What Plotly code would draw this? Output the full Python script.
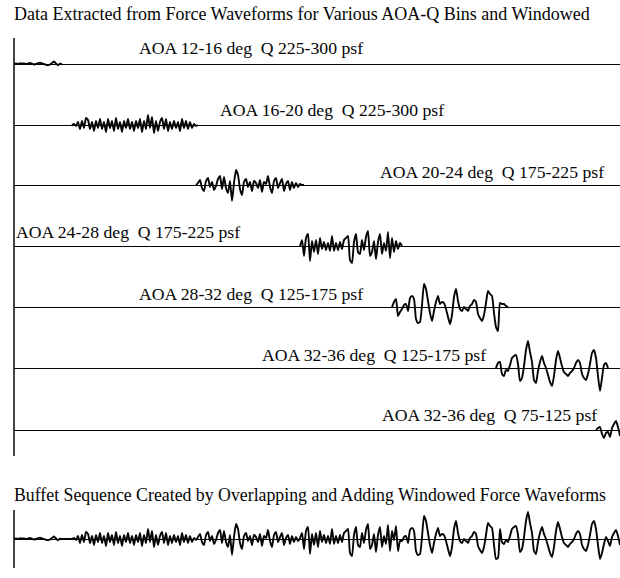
import numpy as np
import plotly.graph_objects as go

W, H = 620, 578

# ---- data: windowed force waveform samples (sample index grid, 1 sample = 2 time units)
labels = [
    "AOA 12-16 deg  Q 225-300 psf",
    "AOA 16-20 deg  Q 225-300 psf",
    "AOA 20-24 deg  Q 175-225 psf",
    "AOA 24-28 deg  Q 175-225 psf",
    "AOA 28-32 deg  Q 125-175 psf",
    "AOA 32-36 deg  Q 125-175 psf",
    "AOA 32-36 deg  Q 75-125 psf",
]
starts = [0, 29, 91, 143, 189, 241, 291]
n_samples = 304

seg1 = [0, .5, 0, .8, .3, .6, 0, .5, 1, .3, -.5, 0, .8, 1.2, .6, 0, -.8, -1.2, -.5, 1, 2.5, .5, -1.2, .3, 0]
seg2 = [0, 1, -1, 3, -4, 4, -3, 7, 5, -4, 3, -6, 4, -3, 6, -4, 3, -7, 6, -3, 4, -6, 7, -4, 3, -7, 4, -3,
        6, -4, 3, -6, 4, -3, 6, -7, 4, -4, 10, -3, 8, -8, 4, -6, 3, 7, -4, 6, -6, 3, -4, 4, -3, 3, -6, 6,
        -3, 4, -4, 3, -3, 1, -1, 0]
seg3 = [0, 2, 5, -3, -6, 4, 7, -2, 3, -5, -1, 6, 9, -4, 8, -3, -8, 4, -16, 2, 15, 10, -4, -10, 3, 6, -2,
        3, -6, 4, 2, -3, 5, -7, 3, 1, 9, -2, -8, 4, 7, -3, 2, 6, -6, 1, 4, -5, 3, -3, 2, -2, 1, 0, 0]
seg4 = [0, 6, -10, 8, 12, -15, 5, -6, 6, -8, 8, -3, 4, -4, 3, -5, 10, -5, 3, -4, 4, -3, 6, 8, 10, -14,
        -17, 4, 12, -6, -8, 6, -4, 9, 15, -10, -6, 5, -13, 4, 12, -8, 3, -5, 14, -12, 8, -6, 5, -3, 3, 0]
seg5 = [0, 5, 8, -9, -5, -2, 2, 3, -4, 9, 11, 8, -12, -16, -15, 2, 23, 18, 6, -6, -14, -4, 5, 11, 3, 5,
        4, -2, -10, -17, -8, 10, 18, 6, -2, -4, 0, -2, -4, 1, 3, 7, 5, -7, -11, -14, -8, 4, 16, 13, 11,
        -6, -20, -24, 4, 3, 3, 1, 0]
seg6 = [0, 5, 6, -6, -8, -2, -3, 3, 10, 12, 13, 4, -13, -10, 2, 18, 27, 16, 6, -12, -15, -3, 6, 12, 5,
        0, -7, -14, -18, -8, 8, 17, 10, 2, -4, -6, -8, -5, -3, 0, 5, 8, 5, -6, -10, -12, -6, 4, 15, 18,
        10, -8, -23, -10, 3, 5, 0]
seg7 = [0, 2, 3, -4, -8, -3, -2, -7, 2, 6, 9, 3, -6]
segments = [seg1, seg2, seg3, seg4, seg5, seg6, seg7]

title_top = "Data Extracted from Force Waveforms for Various AOA-Q Bins and Windowed"
title_bottom = "Buffet Sequence Created by Overlapping and Adding Windowed Force Waveforms"

# buffet sequence = overlap-add of the windowed segments
buffet = np.zeros(n_samples)
for s, seg in zip(starts, segments):
    buffet[s:s + len(seg)] += np.asarray(seg, dtype=float)

# ---- layout (pixel geometry)
row_base = [64, 125, 185, 246, 307, 368, 430]
bottom_base = 539
half = 30
label_pos = [(137, 48), (218, 110), (378, 172), (14, 232), (137, 294), (260, 355), (380, 415)]

FONT = "Liberation Serif, Times New Roman, serif"
FS_TITLE = 18
FS = 17.7
INK = "#050505"
fig = go.Figure()
layout = dict(
    width=W, height=H, margin=dict(l=0, r=0, t=0, b=0),
    paper_bgcolor="white", plot_bgcolor="white", showlegend=False,
    xaxis=dict(domain=[14 / W, 1], range=[0, n_samples - 1], visible=False, fixedrange=True),
)

def yaxis_for(base):
    c = 1 - base / H
    return dict(domain=[c - half / H, c + half / H], range=[-half, half], anchor="x",
                showgrid=False, showticklabels=False, ticks="", showline=False,
                zeroline=True, zerolinecolor=INK, zerolinewidth=1.3, fixedrange=True)

all_rows = row_base + [bottom_base]
for i, base in enumerate(all_rows):
    key = "yaxis" if i == 0 else f"yaxis{i + 1}"
    layout[key] = yaxis_for(base)

line_style = dict(color=INK, width=1.9, shape="spline", smoothing=0.5)
for i, (s, seg) in enumerate(zip(starts, segments)):
    fig.add_trace(go.Scatter(x=np.arange(s, s + len(seg)), y=seg, mode="lines",
                             line=line_style,
                             yaxis="y" if i == 0 else f"y{i + 1}", hoverinfo="skip"))

fig.add_trace(go.Scatter(x=np.arange(n_samples), y=buffet, mode="lines",
                         line=line_style,
                         yaxis=f"y{len(all_rows)}", hoverinfo="skip"))

ann = [dict(text=title_top, x=12 / W, y=1 - 14 / H, xref="paper", yref="paper",
            xanchor="left", yanchor="middle", showarrow=False,
            font=dict(family=FONT, size=FS_TITLE, color=INK)),
       dict(text=title_bottom, x=12 / W, y=1 - 495 / H, xref="paper", yref="paper",
            xanchor="left", yanchor="middle", showarrow=False,
            font=dict(family=FONT, size=FS_TITLE - 0.2, color=INK))]
for lab, (lx, ly) in zip(labels, label_pos):
    ann.append(dict(text=lab, x=lx / W, y=1 - ly / H, xref="paper", yref="paper",
                    xanchor="left", yanchor="middle", showarrow=False,
                    font=dict(family=FONT, size=FS, color=INK)))
layout["annotations"] = ann

layout["shapes"] = [
    dict(type="line", xref="paper", yref="paper", x0=14 / W, x1=14 / W,
         y0=1 - 38 / H, y1=1 - 456 / H, line=dict(color=INK, width=1.5)),
    dict(type="line", xref="paper", yref="paper", x0=14 / W, x1=14 / W,
         y0=1 - 510 / H, y1=1 - 568 / H, line=dict(color=INK, width=1.5)),
]

fig.update_layout(**layout)
fig.write_html("out.html", config={"displayModeBar": False},
               post_script="document.body.style.margin='0';document.body.style.overflow='hidden';")
